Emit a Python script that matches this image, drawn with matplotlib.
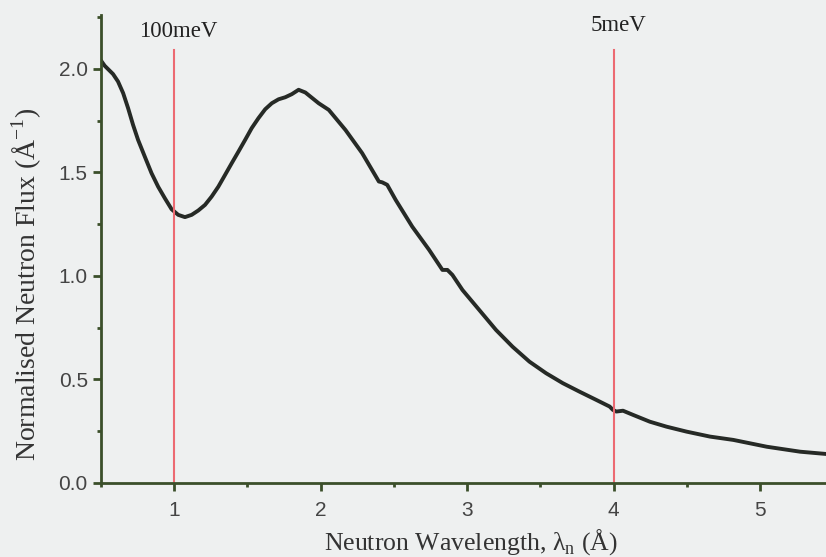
import numpy as np
import matplotlib.pyplot as plt
from matplotlib.ticker import MultipleLocator

# values
wavelength = [0.500, 0.525, 0.582, 0.616, 0.651, 0.685, 0.719, 0.753, 0.799, 0.845,
              0.890, 0.936, 0.982, 1.027, 1.073, 1.119, 1.164, 1.210, 1.255, 1.301,
              1.347, 1.392, 1.438, 1.484, 1.529, 1.575, 1.621, 1.666, 1.712, 1.758,
              1.803, 1.849, 1.895, 1.986, 2.055, 2.169, 2.283, 2.397, 2.420, 2.454,
              2.512, 2.625, 2.740, 2.831, 2.865, 2.899, 2.968, 3.082, 3.197, 3.310,
              3.425, 3.539, 3.653, 3.767, 3.882, 3.973, 3.995, 4.018, 4.064, 4.132,
              4.247, 4.361, 4.498, 4.658, 4.817, 5.046, 5.274, 5.452]
flux = [2.040, 2.015, 1.975, 1.939, 1.883, 1.810, 1.729, 1.657, 1.576, 1.496,
        1.431, 1.375, 1.322, 1.295, 1.284, 1.295, 1.316, 1.343, 1.383, 1.431,
        1.488, 1.544, 1.600, 1.657, 1.714, 1.762, 1.805, 1.834, 1.853, 1.863,
        1.878, 1.899, 1.886, 1.834, 1.802, 1.705, 1.593, 1.456, 1.452, 1.440,
        1.367, 1.238, 1.126, 1.029, 1.029, 1.005, 0.932, 0.836, 0.739, 0.658,
        0.586, 0.530, 0.482, 0.441, 0.401, 0.369, 0.353, 0.345, 0.349, 0.329,
        0.296, 0.272, 0.248, 0.224, 0.208, 0.175, 0.151, 0.140]

energy_lines = [1.0, 4.0]
energy_labels = ['100meV', '5meV']

bg = '#eef0f0'
axc = '#3b4f2a'
fig = plt.figure(figsize=(8.26, 5.57), dpi=100, facecolor=bg)
ax = fig.add_axes([0.1223, 0.1329, 0.8777, 0.8401])
ax.set_facecolor(bg)

ax.plot(wavelength, flux, color='#262a26', lw=2.8, solid_joinstyle='round')

for xl, lab, yl in zip(energy_lines, energy_labels, [2.18, 2.21]):
    ax.plot([xl, xl], [0, 2.09], color='#ec6a72', lw=1.5)
    ax.text(xl + 0.03, yl, lab, ha='center', va='center', fontsize=16.5,
            family='Liberation Serif', color='#222')

ax.set_xlim(0.5, 5.45)
ax.set_ylim(0, 2.26)
ax.xaxis.set_major_locator(MultipleLocator(1))
ax.xaxis.set_minor_locator(MultipleLocator(0.5))
ax.yaxis.set_major_locator(MultipleLocator(0.5))
ax.yaxis.set_minor_locator(MultipleLocator(0.25))
ax.xaxis.set_major_formatter(plt.FormatStrFormatter('%d'))
ax.yaxis.set_major_formatter(plt.FormatStrFormatter('%.1f'))

for s in ['top', 'right']:
    ax.spines[s].set_visible(False)
for s in ['left', 'bottom']:
    ax.spines[s].set_color(axc)
    ax.spines[s].set_linewidth(2)

ax.tick_params(which='major', direction='out', length=6, width=2, color=axc,
               labelsize=15, labelcolor='#444')
ax.tick_params(axis='x', which='major', pad=7)
ax.tick_params(which='minor', direction='out', length=3, width=2, color=axc)
for t in ax.get_xticklabels() + ax.get_yticklabels():
    t.set_family('Liberation Sans')

ax.set_xlabel('Neutron Wavelength, λ$_\\mathregular{n}$ (Å)', family='Liberation Serif',
              fontsize=18.5, color='#333')
ax.xaxis.set_label_coords(0.51, -0.095)
ax.set_ylabel('Normalised Neutron Flux (Å$^\\mathregular{-1}$)', family='Liberation Serif',
              fontsize=20, color='#333')
ax.yaxis.set_label_coords(-0.079, 0.425)

fig.savefig('out.png', dpi=100, facecolor=bg)
